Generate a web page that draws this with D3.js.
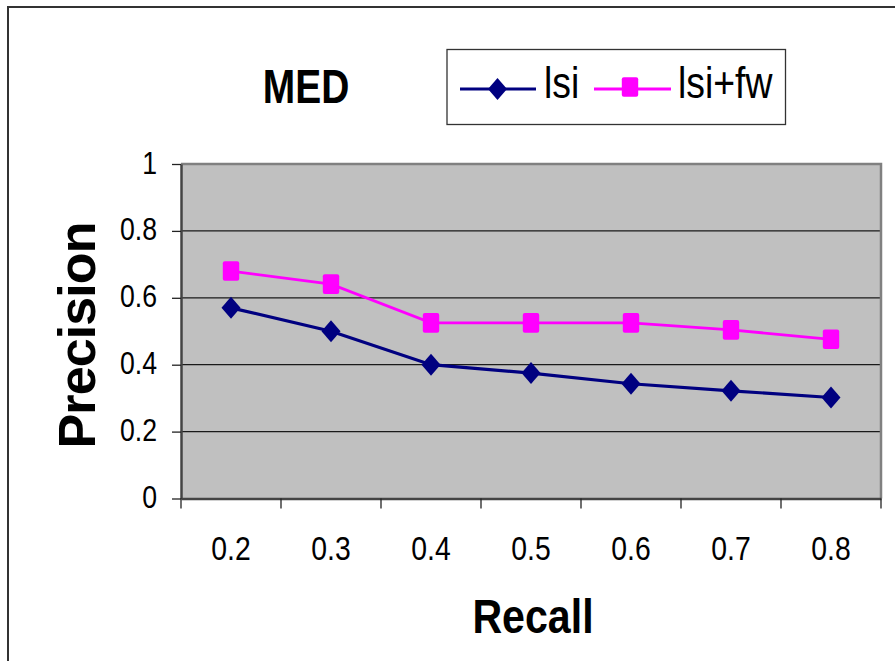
<!DOCTYPE html>
<html><head><meta charset="utf-8">
<script src="https://cdn.jsdelivr.net/npm/d3@7"></script>
<style>body{margin:0;background:#fff}svg{display:block}text{font-family:"Liberation Sans",Arial,sans-serif}</style>
</head><body>
<script>
const categories = ["0.2","0.3","0.4","0.5","0.6","0.7","0.8"];
const lsi = [0.57,0.50,0.40,0.375,0.343,0.322,0.302];
const lsiFw = [0.68,0.641,0.525,0.525,0.525,0.504,0.476];
const yTicks = [0,0.2,0.4,0.6,0.8,1];
const yTickLabels = ["0","0.2","0.4","0.6","0.8","1"];
const seriesNames = ["lsi","lsi+fw"];
const title = "MED", xTitle = "Recall", yTitle = "Precision";

const W=895,H=661;
const svg=d3.select("body").append("svg").attr("width",W).attr("height",H);
// outer frame
svg.append("rect").attr("x",8).attr("y",7).attr("width",W+20).attr("height",H+20)
  .attr("fill","#fff").attr("stroke","#333").attr("stroke-width",2);

const L=181,R=881,T=164,B=498.5;
const x=d3.scaleBand().domain(categories).range([L,R]);
const y=d3.scaleLinear().domain([0,1]).range([B,T]);

// plot area
svg.append("rect").attr("x",L).attr("y",T).attr("width",R-L).attr("height",B-T).attr("fill","#c0c0c0");
// grid
svg.append("g").selectAll("line").data(yTicks.filter(d=>d>0&&d<1)).join("line")
  .attr("x1",L).attr("x2",R).attr("y1",d=>y(d)).attr("y2",d=>y(d))
  .attr("stroke","#1a1a1a").attr("stroke-width",1.2);
// top & right frame
svg.append("path").attr("d",`M${L},${T}H${R}V${B}`).attr("fill","none").attr("stroke","#808080").attr("stroke-width",2.5);

// y axis
const ya=svg.append("g").attr("transform",`translate(${L},0)`)
  .call(d3.axisLeft(y).tickValues(yTicks).tickFormat((d,i)=>yTickLabels[i]).tickSize(9).tickSizeOuter(0));
ya.select(".domain").attr("stroke","#444").attr("stroke-width",2.5);
ya.selectAll(".tick line").attr("stroke","#222").attr("stroke-width",1.3);
const sY=0.86;
ya.selectAll(".tick text").attr("font-size",31).attr("fill","#000").attr("text-anchor","end")
  .attr("dy",null).attr("y",9).attr("x",-24/sY).attr("transform",`scale(${sY},1)`);

// x axis labels
const xa=svg.append("g").attr("transform",`translate(0,${B})`)
  .call(d3.axisBottom(x).tickSize(0).tickSizeOuter(0));
xa.select(".domain").attr("stroke","#444").attr("stroke-width",2.5);
const sX=0.86;
xa.selectAll(".tick text").attr("font-size",33).attr("fill","#000")
  .attr("dy",null).attr("y",62).attr("transform",`scale(${sX},1)`)
  .each(function(){ /* keep centered after scale */ })
  ;
xa.selectAll(".tick").each(function(d){
  const cx=x(d)+x.bandwidth()/2;
  d3.select(this).attr("transform",`translate(${cx},0) scale(${sX},1)`);
  d3.select(this).select("text").attr("transform",null);
});
// x tick marks at band boundaries
const bounds=categories.map(c=>x(c)).concat([x(categories[categories.length-1])+x.bandwidth()]);
svg.append("g").selectAll("line").data(bounds).join("line")
  .attr("x1",d=>d).attr("x2",d=>d).attr("y1",B).attr("y2",B+10)
  .attr("stroke","#222").attr("stroke-width",1.3);

// series
const line=d3.line().x((d,i)=>x(categories[i])+x.bandwidth()/2).y(d=>y(d));
const navy="#000080", mag="#ff00ff";
svg.append("path").datum(lsi).attr("d",line).attr("fill","none").attr("stroke",navy).attr("stroke-width",3.2);
svg.append("path").datum(lsiFw).attr("d",line).attr("fill","none").attr("stroke",mag).attr("stroke-width",2.8);
function diamond(g,cx,cy){g.append("path").attr("d",`M${cx},${cy-11}L${cx+9.5},${cy}L${cx},${cy+11}L${cx-9.5},${cy}Z`).attr("fill",navy);}
function square(g,cx,cy){g.append("rect").attr("x",cx-8.2).attr("y",cy-9.8).attr("width",16.4).attr("height",19.6).attr("rx",2).attr("fill",mag);}
const mg=svg.append("g");
lsi.forEach((v,i)=>diamond(mg,x(categories[i])+x.bandwidth()/2,y(v)));
lsiFw.forEach((v,i)=>square(mg,x(categories[i])+x.bandwidth()/2,y(v)));

// title
function stext(txt,tx,ty,size,sx,weight,anchor){
  svg.append("g").attr("transform",`translate(${tx},${ty}) scale(${sx},1)`)
    .append("text").text(txt).attr("font-size",size).attr("font-weight",weight).attr("text-anchor",anchor).attr("fill","#000");
}
stext(title,306,103,47.5,0.82,"bold","middle");
stext(xTitle,533,633,47.5,0.866,"bold","middle");
// y title rotated
svg.append("g").attr("transform",`translate(95,335) rotate(-90)`)
  .append("text").text(yTitle).attr("font-size",52).attr("font-weight","bold").attr("text-anchor","middle")
  .attr("textLength",227).attr("lengthAdjust","spacing").attr("fill","#000");

// legend
const lg=svg.append("g");
lg.append("rect").attr("x",447).attr("y",49.5).attr("width",338.5).attr("height",75).attr("fill","#fff").attr("stroke","#333").attr("stroke-width",1.3);
lg.append("line").attr("x1",460).attr("x2",536).attr("y1",89).attr("y2",89).attr("stroke",navy).attr("stroke-width",3.2);
diamond(lg,497.5,89);
lg.append("line").attr("x1",594).attr("x2",671).attr("y1",89).attr("y2",89).attr("stroke",mag).attr("stroke-width",2.8);
square(lg,630,87);
stext(seriesNames[0],544,97.5,45,0.83,"normal","start");
stext(seriesNames[1],678,97.5,45,0.83,"normal","start");
</script>
</body></html>
